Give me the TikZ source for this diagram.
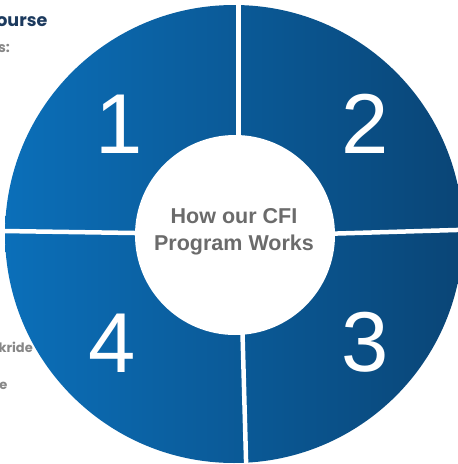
\documentclass[tikz,border=0pt]{standalone}
\usepackage{fontspec}
\setmainfont{Liberation Sans}
\newfontfamily\sidefont{Poppins}
\definecolor{ringleft}{RGB}{11,111,185}
\definecolor{ringright}{RGB}{10,69,118}
\definecolor{centergray}{RGB}{107,107,107}
\definecolor{navytext}{RGB}{28,58,94}
\definecolor{sidegray}{RGB}{135,135,135}
\begin{document}
\begin{tikzpicture}[x=1pt,y=-1pt,
  divider/.style={line width=4.5pt,white},
  numlabel/.style={anchor=base,inner sep=0pt,text=white,font=\fontsize{85}{85}\selectfont},
  centerlabel/.style={anchor=base,inner sep=0pt,text=centergray,font=\fontsize{21.5}{26}\selectfont\bfseries},
  sidelabel/.style={anchor=base east,inner sep=0pt,text=sidegray,font=\sidefont\bfseries\fontsize{13}{15}\selectfont}]
\useasboundingbox (0,0) rectangle (458,464);
\clip (0,0) rectangle (458,464);
% ring
\shade[left color=ringleft,right color=ringright] (234,234) circle[radius=229pt];
% dividers
\coordinate (topin) at (238.5,200);
\coordinate (topout) at (238.5,-3);
\coordinate (rightin) at (300,234.6);
\coordinate (rightout) at (470,229.6);
\coordinate (botin) at (240.2,250);
\coordinate (botout) at (246.3,470);
\coordinate (leftin) at (200,234);
\coordinate (leftout) at (-3,230.9);
\draw[divider] (topin) -- (topout);
\draw[divider] (rightin) -- (rightout);
\draw[divider] (botin) -- (botout);
\draw[divider] (leftin) -- (leftout);
% hub
\fill[white] (235,235) circle[radius=100pt];
\node[centerlabel] (hubA) at (234,223) {How our CFI};
\node[centerlabel] (hubB) at (234,250) {Program Works};
% numbers
\node[numlabel] (n1) at (119,153) {1};
\node[numlabel] (n2) at (365.5,153) {2};
\node[numlabel] (n3) at (365.5,371) {3};
\node[numlabel] (n4) at (112.5,372) {4};
% cut-off side texts
\node[sidelabel,text=navytext,font=\sidefont\bfseries\fontsize{17.5}{20}\selectfont] (s1) at (47.5,26) {ourse};
\node[sidelabel,font=\sidefont\bfseries\fontsize{14}{16}\selectfont] (s2) at (10,52) {s:};
\node[sidelabel] (s3) at (33,352) {kride};
\node[sidelabel] (s4) at (7.5,389) {e};
\end{tikzpicture}
\end{document}
